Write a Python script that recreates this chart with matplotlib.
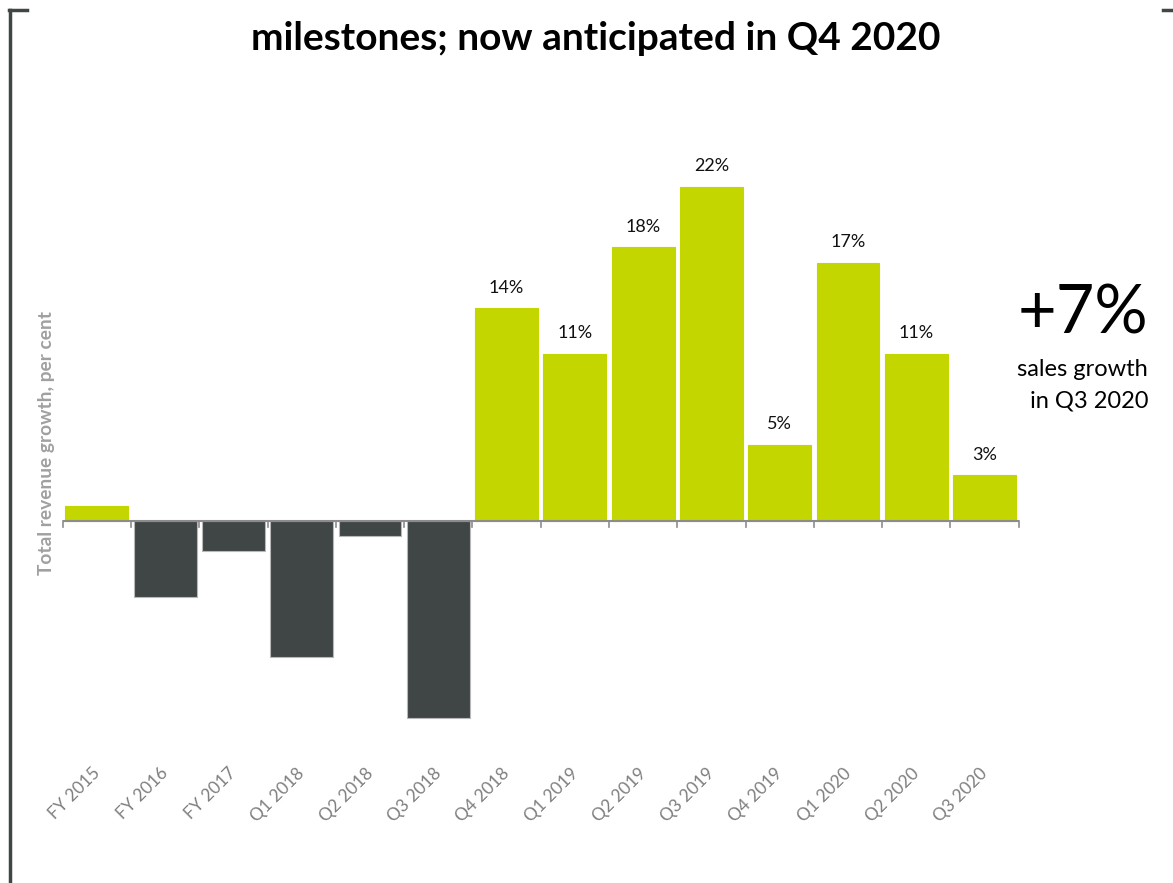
import numpy as np
import matplotlib.pyplot as plt
from matplotlib.lines import Line2D

plt.rcParams['font.family'] = ['Lato', 'DejaVu Sans']

# data
periods = ['FY 2015', 'FY 2016', 'FY 2017', 'Q1 2018', 'Q2 2018', 'Q3 2018', 'Q4 2018',
           'Q1 2019', 'Q2 2019', 'Q3 2019', 'Q4 2019', 'Q1 2020', 'Q2 2020', 'Q3 2020']
growth = [1, -5, -2, -9, -1, -13, 14, 11, 18, 22, 5, 17, 11, 3]
labelled = [False] * 6 + [True] * 8

green = '#c4d600'
dark = '#404545'

fig = plt.figure(figsize=(11.73, 8.83), dpi=100)
W, H = 1173, 883

# axes placed in pixel terms: zero line ~521px from top
ax = fig.add_axes([62.7 / W, (H - 741) / H, 956 / W, 600 / H])
x = np.arange(len(periods))
cols = [green if v > 0 else dark for v in growth]
edges = [green if v > 0 else '#b8b8b8' for v in growth]
ax.bar(x, growth, width=0.92, color=cols, edgecolor=edges, linewidth=0.8, zorder=2)

ax.set_xlim(-0.5, len(periods) - 0.5)
ax.set_ylim(-14.5, 25)
for s in ['top', 'right', 'left', 'bottom']:
    ax.spines[s].set_visible(False)
ax.axhline(0, color='#8c8c8c', linewidth=1.5, zorder=3)
ax.set_yticks([])
ax.set_xticks([])
# boundary ticks on the zero line
for b in np.arange(-0.5, len(periods), 1.0):
    ax.plot([b, b], [0, -0.4], color='#8c8c8c', linewidth=1.2, zorder=3, clip_on=False)

# value labels
for xi, v, lab in zip(x, growth, labelled):
    if lab:
        ax.annotate(f'{v}%', (xi, v), xytext=(0, 9), textcoords='offset points',
                    ha='center', va='bottom', fontsize=13, color='#111111')

# rotated category labels
for xi, p in zip(x, periods):
    ax.text(xi + 0.09, -0.04, p, transform=ax.get_xaxis_transform(), rotation=45,
            ha='right', va='top', fontsize=12.5, color='#7f7f7f')

ax.set_ylabel('Total revenue growth, per cent', fontsize=13.8, fontweight='bold',
              color='#a0a0a0')
ax.yaxis.set_label_coords(-0.008, 0.497)

# headline
fig.text(596 / W, 1 - 38 / H, 'milestones; now anticipated in Q4 2020', ha='center', va='center',
         fontsize=28, fontweight='bold', color='black')

# right-hand callout
fig.text(1148 / W, 1 - 315 / H, '+7%', ha='right', va='center', fontsize=48, color='black')
fig.text(1148 / W, 1 - 370 / H, 'sales growth', ha='right', va='center', fontsize=17, color='black')
fig.text(1148 / W, 1 - 401 / H, 'in Q3 2020', ha='right', va='center', fontsize=17, color='black')

# bracket frame
fig.add_artist(Line2D([9.5 / W, 9.5 / W], [0, 1 - 9.5 / H], color=dark, linewidth=2.5,
                      transform=fig.transFigure))
fig.add_artist(Line2D([8.5 / W, 27 / W], [1 - 9.5 / H, 1 - 9.5 / H], color=dark, linewidth=2.5,
                      transform=fig.transFigure))
fig.add_artist(Line2D([1163 / W, 1], [1 - 9.5 / H, 1 - 9.5 / H], color=dark, linewidth=2.5,
                      transform=fig.transFigure))

fig.savefig('out.png', dpi=100)
